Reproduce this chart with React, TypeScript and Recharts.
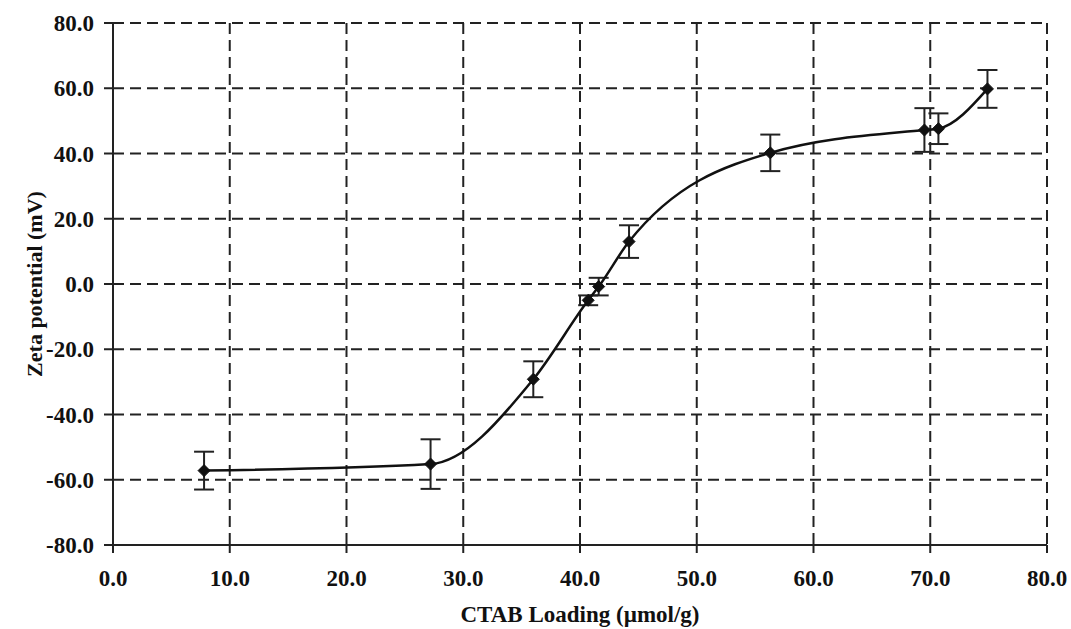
import { CartesianGrid, ComposedChart, ErrorBar, Line, XAxis, YAxis } from 'recharts';

const loading = [7.8, 27.2, 36.0, 40.7, 41.6, 44.2, 56.3, 69.5, 70.7, 74.9];
const zeta = [-57.2, -55.2, -29.2, -5.0, -0.8, 13.0, 40.2, 47.2, 47.6, 59.8];
const errors = [5.8, 7.6, 5.5, 1.5, 2.7, 5.0, 5.6, 6.7, 4.7, 5.8];

const xTicks = [0, 10, 20, 30, 40, 50, 60, 70, 80];
const yTicks = [-80, -60, -40, -20, 0, 20, 40, 60, 80];

const data = loading.map((x, i) => ({ x, y: zeta[i], err: errors[i] }));

const font = { fontFamily: '"Liberation Serif", "Times New Roman", serif', fontWeight: 700, fontSize: 23, fill: '#111' };
const titleFont = { ...font, fontSize: 22 };

const Diamond = (props: any) => {
  const { cx, cy, index } = props;
  if (cx == null || cy == null) return <g key={index} />;
  const r = 6;
  return (
    <path
      key={index}
      d={`M${cx},${cy - r}L${cx + r},${cy}L${cx},${cy + r}L${cx - r},${cy}Z`}
      fill="#111"
      stroke="#111"
      strokeWidth={1}
    />
  );
};

export default function App() {
  return (
    <div style={{ position: 'absolute', left: 0, top: 0, width: 1071, height: 629, background: '#fff' }}>
      <ComposedChart width={1071} height={629} data={data} margin={{ top: 23, right: 24, left: 0, bottom: 0 }}>
        <CartesianGrid stroke="#222" strokeWidth={2} strokeDasharray="11 6" />
        <XAxis
          type="number"
          dataKey="x"
          domain={[0, 80]}
          ticks={xTicks}
          interval={0}
          tickFormatter={(v: number) => v.toFixed(1)}
          height={84}
          tickSize={8}
          tickMargin={17}
          stroke="#222"
          strokeWidth={2}
          tick={font}
          label={{ value: 'CTAB Loading (µmol/g)', position: 'insideBottom', offset: 7, style: font }}
        />
        <YAxis
          type="number"
          domain={[-80, 80]}
          ticks={yTicks}
          interval={0}
          tickFormatter={(v: number) => v.toFixed(1)}
          width={113}
          tickSize={9}
          tickMargin={10}
          stroke="#222"
          strokeWidth={2}
          tick={font}
          label={{
            value: 'Zeta potential (mV)',
            angle: -90,
            position: 'insideLeft',
            offset: 34,
            style: { ...titleFont, textAnchor: 'middle' },
          }}
        />
        <Line
          type="monotone"
          dataKey="y"
          stroke="#111"
          strokeWidth={2.5}
          dot={Diamond}
          activeDot={false}
          isAnimationActive={false}
        >
          <ErrorBar dataKey="err" direction="y" width={10} stroke="#222" strokeWidth={2} />
        </Line>
      </ComposedChart>
    </div>
  );
}
